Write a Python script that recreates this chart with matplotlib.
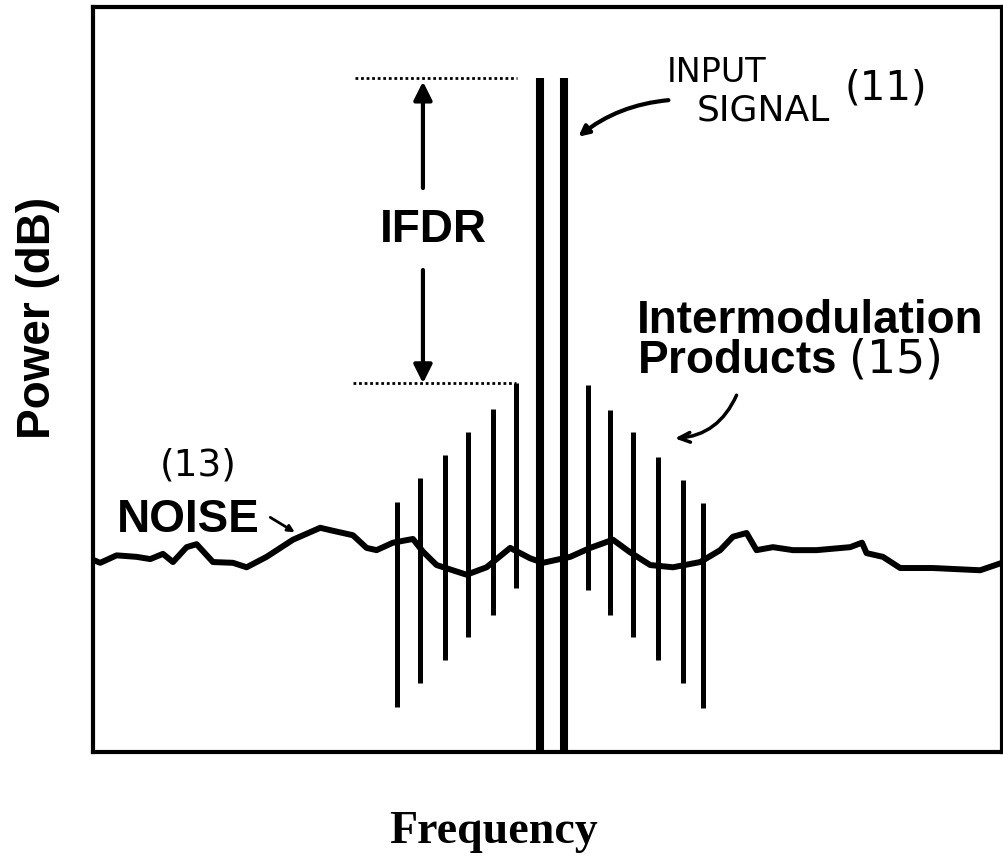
import matplotlib
matplotlib.use("Agg")
import matplotlib.pyplot as plt

# noise floor trace (frequency, power) in arbitrary units 0..100
noise_freq = [0, 0.8, 2.6, 4.8, 6.3, 7.7, 8.8, 10.3, 11.4, 13.2, 15.4, 16.9, 19.1,
              22.0, 25.0, 26.4, 28.6, 30.1, 31.2, 33.0, 35.2, 36.3, 37.8, 41.1,
              43.3, 45.9, 48.1, 49.5, 52.5, 54.7, 57.2, 59.1, 61.3, 63.8, 66.8,
              69.0, 70.4, 71.9, 73.0, 74.8, 77.0, 79.6, 83.3, 84.6, 85.1, 86.9,
              88.8, 92.4, 97.6, 100]
noise_power = [25.8, 25.4, 26.4, 26.2, 25.9, 26.6, 25.5, 27.5, 27.9, 25.5, 25.4,
               24.8, 26.2, 28.5, 30.1, 29.7, 29.1, 27.4, 27.1, 28.1, 28.6, 26.9,
               25.1, 23.8, 24.8, 27.4, 26.0, 25.4, 26.2, 27.4, 28.5, 26.8, 25.1,
               24.8, 25.5, 27.1, 28.9, 29.4, 27.1, 27.5, 27.1, 27.1, 27.5, 28.1,
               26.7, 26.2, 24.7, 24.7, 24.4, 25.4]

# intermodulation product spurs
im_freq = [33.4, 36.0, 38.7, 41.3, 44.0, 46.5, 54.5, 56.9, 59.4, 62.2, 64.9, 67.1]
im_top = [33.6, 36.8, 39.9, 43.0, 46.0, 49.5, 49.3, 45.9, 43.0, 39.6, 36.5, 33.4]
im_bottom = [6.0, 9.3, 12.3, 15.4, 18.4, 22.0, 21.7, 18.4, 15.4, 12.3, 9.3, 5.9]

# two-tone input signal
signal_freq = [49.2, 51.8]
signal_top = [90.5, 90.5]

# IFDR reference levels
ifdr_high = 90.5
ifdr_low = 49.5

# the "(15)" reference number is set in a plain (non-bold) face via mathtext
plt.rcParams["mathtext.fontset"] = "custom"
plt.rcParams["mathtext.rm"] = "DejaVu Sans"

hand = ["DejaVu Sans"]
bold = ["Liberation Sans", "DejaVu Sans"]

fig = plt.figure(figsize=(10.04, 8.58), dpi=100)
ax = fig.add_axes([0.0926, 0.1235, 0.9054, 0.8683])
ax.set_xlim(0, 100)
ax.set_ylim(0, 100)
ax.set_xticks([])
ax.set_yticks([])
for s in ax.spines.values():
    s.set_linewidth(3)

# noise
ax.plot(noise_freq, noise_power, color="black", lw=4.3, solid_capstyle="round",
        solid_joinstyle="round", zorder=3)

# intermod products
ax.vlines(im_freq, im_bottom, im_top, color="black", lw=3.6, zorder=4)

# input signal
ax.vlines(signal_freq, 0, signal_top, color="black", lw=5.8, zorder=5)

# IFDR dotted reference lines
ax.plot([28.8, 46.6], [ifdr_high, ifdr_high], color="black", lw=2, ls=(0, (1, 1)))
ax.plot([28.6, 46.5], [ifdr_low, ifdr_low], color="black", lw=2, ls=(0, (1, 1)))

# IFDR arrows
arr = dict(arrowstyle="-|>,head_width=0.55,head_length=1.1", color="black", lw=3,
           shrinkA=0, shrinkB=0)
ax.annotate("", xy=(36.3, ifdr_high - 0.5), xytext=(36.3, 75.7), arrowprops=arr)
ax.annotate("", xy=(36.3, ifdr_low), xytext=(36.3, 64.7), arrowprops=arr)
ax.text(37.4, 70.1, "IFDR", fontsize=33, fontweight="bold", family=bold,
        ha="center", va="center")

# input signal label
ax.text(63.1, 90.0, "INPUT", fontsize=24, family=hand, va="baseline")
ax.text(66.4, 84.8, "SIGNAL", fontsize=26, family=hand, va="baseline")
ax.text(82.7, 89.1, "(11)", fontsize=29, family=hand, va="center")
ax.annotate("", xy=(53.4, 82.6), xytext=(63.3, 87.5),
            arrowprops=dict(arrowstyle="-|>,head_width=0.3,head_length=0.6",
                            color="black", lw=3, shrinkA=0, shrinkB=0,
                            connectionstyle="arc3,rad=0.15"))

# intermodulation label (baseline of the last line)
ax.text(59.8, 50.9, "Intermodulation\nProducts $\\mathrm{(15)}$", fontsize=33,
        fontweight="bold", family=bold, va="baseline", linespacing=0.85)
ax.annotate("", xy=(64.0, 42.1), xytext=(70.8, 47.9),
            arrowprops=dict(arrowstyle="->,head_width=0.35,head_length=0.8",
                            color="black", lw=2.5, shrinkA=0, shrinkB=0,
                            connectionstyle="arc3,rad=-0.3"))

# noise label
ax.text(7.4, 38.4, "(13)", fontsize=27, family=hand, va="center")
ax.text(2.6, 29.5, "NOISE", fontsize=33, fontweight="bold", family=bold,
        va="baseline")
ax.annotate("", xy=(22.2, 29.5), xytext=(19.5, 31.5),
            arrowprops=dict(arrowstyle="-|>,head_width=0.2,head_length=0.4",
                            color="black", lw=2, shrinkA=0, shrinkB=0))

# axis labels
ax.set_xlabel("Frequency", fontsize=33, fontweight="bold",
              family=["Liberation Serif", "DejaVu Serif"], va="center")
ax.xaxis.set_label_coords(0.441, -0.107)
ax.set_ylabel("Power (dB)", fontsize=33, fontweight="bold", family=bold, va="center")
ax.yaxis.set_label_coords(-0.060, 0.583)

fig.savefig("out.png", dpi=100)
